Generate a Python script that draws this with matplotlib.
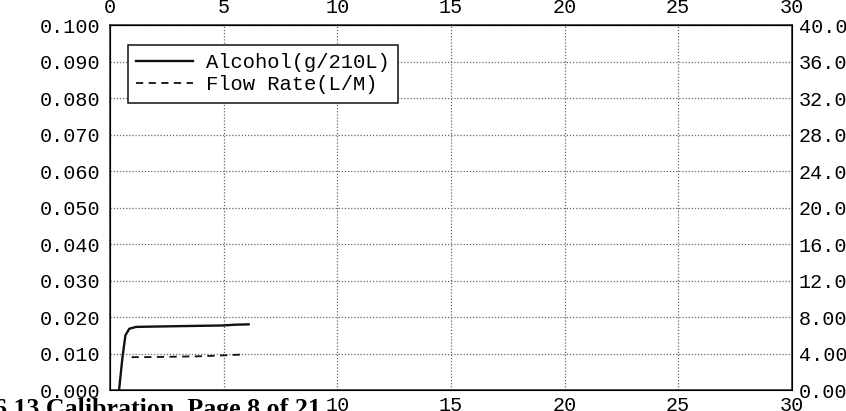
import matplotlib
matplotlib.use("Agg")
import matplotlib.pyplot as plt

# Data
alc_t = [0.40, 0.55, 0.68, 0.85, 1.15, 2.0, 3.0, 4.0, 5.0, 5.5, 6.1]
alc_v = [0.000, 0.009, 0.015, 0.0168, 0.0173, 0.0174, 0.0175, 0.0176, 0.0177, 0.0179, 0.0180]
flow_t = [0.95, 2.0, 3.0, 4.0, 5.0, 5.9]
flow_v = [3.60, 3.62, 3.66, 3.70, 3.80, 3.90]

left_ticks = [0.000, 0.010, 0.020, 0.030, 0.040, 0.050, 0.060, 0.070, 0.080, 0.090, 0.100]
right_ticks = [0, 4, 8, 12, 16, 20, 24, 28, 32, 36, 40]
right_labels = ["0.00", "4.00", "8.00", "12.0", "16.0", "20.0", "24.0", "28.0", "32.0", "36.0", "40.0"]
x_ticks = [0, 5, 10, 15, 20, 25, 30]
bottom_labels = ["", "", "10", "15", "20", "25", "30"]
footer = "6.13 Calibration  Page 8 of 21"

mono = "Liberation Mono"
fs = 14.5

fig = plt.figure(figsize=(8.46, 4.11), dpi=100)
ax = fig.add_axes([0.130, 0.051, 0.806, 0.888])
ax.set_xlim(0, 30)
ax.set_ylim(0, 0.100)
ax.set_yticks(left_ticks)
ax.set_yticklabels([f"{v:.3f}" for v in left_ticks], fontfamily=mono, fontsize=fs)
ax.set_xticks(x_ticks)
ax.set_xticklabels(bottom_labels, fontfamily=mono, fontsize=fs)
ax.tick_params(axis="y", length=0, pad=7)
ax.tick_params(axis="x", length=0, pad=4)
ax.grid(True, color="#666666", linestyle=(0, (1, 1.5)), linewidth=0.9)
for s in ax.spines.values():
    s.set_color("#222222")
    s.set_linewidth(1.1)

l1, = ax.plot(alc_t, alc_v, color="#111111", linewidth=1.7, label="Alcohol(g/210L)")

ax2 = ax.twinx()
ax2.set_ylim(0, 40)
ax2.set_yticks(right_ticks)
ax2.set_yticklabels(right_labels, fontfamily=mono, fontsize=fs)
ax2.tick_params(length=0, pad=5)
l2, = ax2.plot(flow_t, flow_v, color="#111111", linewidth=1.3, linestyle=(0, (4, 3)), label="Flow Rate(L/M)")

# top axis labels
axt = ax.secondary_xaxis("top")
axt.set_xticks(x_ticks)
axt.set_xticklabels([str(v) for v in x_ticks], fontfamily=mono, fontsize=fs)
axt.tick_params(length=0, pad=6)

leg = ax.legend(handles=[l1, l2], loc="upper left", bbox_to_anchor=(0.026, 0.945),
                prop={"family": mono, "size": 14.8}, frameon=True, fancybox=False,
                borderpad=0.4, handlelength=2.8, handletextpad=0.6, labelspacing=0.15,
                borderaxespad=0)
leg.get_frame().set_edgecolor("#111111")
leg.get_frame().set_linewidth(1.1)
leg.get_frame().set_alpha(1)

fig.text(-0.007, 0.031, footer, fontfamily="Liberation Serif", fontweight="bold",
         fontsize=18.6, va="top", ha="left")

fig.savefig("out.png", dpi=100)
